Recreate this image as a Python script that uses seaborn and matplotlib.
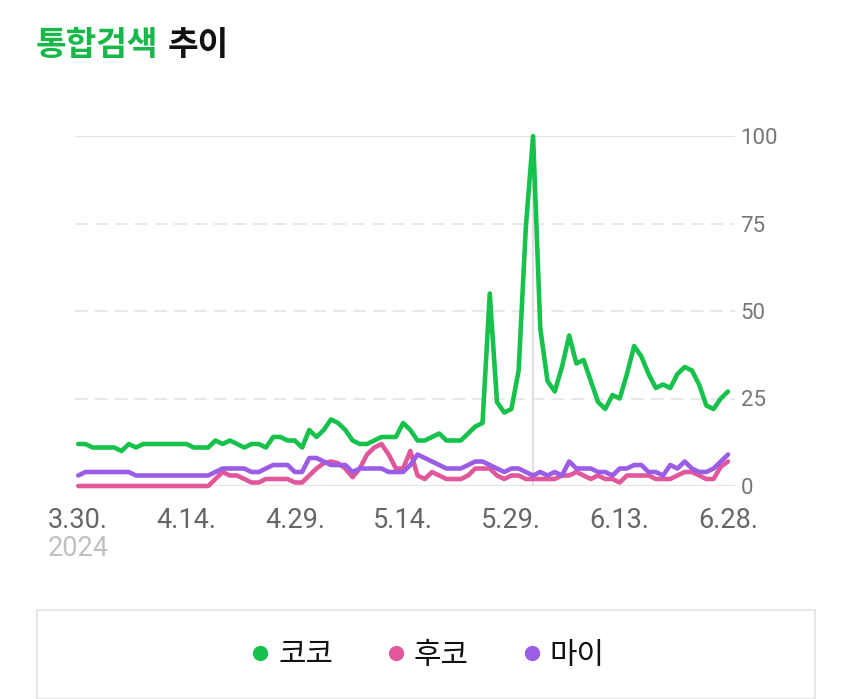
import numpy as np
import pandas as pd
import matplotlib
matplotlib.use("Agg")
import matplotlib.pyplot as plt
from matplotlib.lines import Line2D
from matplotlib.patches import Rectangle
import seaborn as sns

# ---- data ----
dates = pd.date_range("2024-03-30", "2024-06-28", freq="D")
series_names = ["코코", "후코", "마이"]
coco = [12, 12, 11, 11, 11, 11, 10, 12, 11, 12,
        12, 12, 12, 12, 12, 12, 11, 11, 11, 13,
        12, 13, 12, 11, 12, 12, 11, 14, 14, 13,
        13, 11, 16, 14, 16, 19, 18, 16, 13, 12,
        12, 13, 14, 14, 14, 18, 16, 13, 13, 14,
        15, 13, 13, 13, 15, 17, 18, 55, 24, 21,
        22, 33, 74, 100, 45, 30, 27, 34, 43, 35,
        36, 30, 24, 22, 26, 25, 32, 40, 37, 32,
        28, 29, 28, 32, 34, 33, 29, 23, 22, 25, 27]
huko = [0, 0, 0, 0, 0, 0, 0, 0, 0, 0,
        0, 0, 0, 0, 0, 0, 0, 0, 0, 2,
        4, 3, 3, 2, 1, 1, 2, 2, 2, 2,
        1, 1, 3, 5, 6.5, 7, 6.5, 5, 2.5, 5,
        9, 11, 12, 9, 5, 5, 10, 3, 2, 4,
        3, 2, 2, 2, 3, 5, 5, 5, 3, 2,
        3, 3, 2, 2, 2, 2, 2, 3, 3, 4,
        3, 2, 3, 2, 2, 1, 3, 3, 3, 3,
        2, 2, 2, 3, 4, 4, 3, 2, 2, 5.5, 7]
mai = [3, 4, 4, 4, 4, 4, 4, 4, 3, 3,
       3, 3, 3, 3, 3, 3, 3, 3, 3, 4,
       5, 5, 5, 5, 4, 4, 5, 6, 6, 6,
       4, 4, 8, 8, 7, 6, 6, 6, 4, 5,
       5, 5, 5, 4, 4, 4, 6, 9, 8, 7,
       6, 5, 5, 5, 6, 7, 7, 6, 5, 4,
       5, 5, 4, 3, 4, 3, 4, 3, 7, 5,
       5, 5, 4, 4, 3, 5, 5, 6, 6, 4,
       4, 3, 6, 5, 7, 5, 4, 4, 5, 7, 9]
colors = ["#16c24b", "#e0589b", "#9b5ce6"]
y_ticks = [0, 25, 50, 75, 100]
x_tick_labels = ["3.30.", "4.14.", "4.29.", "5.14.", "5.29.", "6.13.", "6.28."]
highlight_date = "2024-06-01"

df = pd.DataFrame({"date": np.tile(dates, 3),
                   "value": coco + huko + mai,
                   "series": np.repeat(series_names, len(dates))})

sns.set_style("white")
plt.rcParams["font.family"] = ["Roboto", "Noto Sans CJK KR", "DejaVu Sans"]

W, H = 850, 699
fig = plt.figure(figsize=(W / 100, H / 100), dpi=100)
ax = fig.add_axes([75 / W, (H - 486) / H, 660 / W, 350 / H])

sns.lineplot(data=df, x="date", y="value", hue="series", palette=colors,
             hue_order=series_names, linewidth=3.3, ax=ax, legend=False,
             clip_on=False)

x0 = dates[0] - pd.Timedelta(days=0.45)
x1 = dates[-1] + pd.Timedelta(days=0.97)
ax.set_xlim(x0, x1)
ax.set_ylim(0, 100)

# grid
for v in y_ticks:
    if v in (0, 100):
        ax.axhline(v, color="#e3e3e3", lw=1.5, zorder=0)
    else:
        ax.axhline(v, color="#e6e6e6", lw=1.3, ls=(0, (7, 4)), zorder=0)
ax.axvline(pd.Timestamp(highlight_date), color="#dcdcdc", lw=1.3, zorder=0)

for s in ax.spines.values():
    s.set_visible(False)

ax.yaxis.tick_right()
ax.set_yticks(y_ticks)
ax.set_yticklabels([str(v) for v in y_ticks])
ax.tick_params(axis="y", length=0, pad=4, labelsize=16, labelcolor="#777777")
xt = dates[::15]
ax.set_xticks(xt)
ax.set_xticklabels(x_tick_labels)
ax.tick_params(axis="x", length=0, pad=15, labelsize=19.5, labelcolor="#666666")
ax.set_xlabel("")
ax.set_ylabel("")

fig.text(48 / W, 1 - 549 / H, "2024", fontsize=19.5, color="#c0c0c0",
         ha="left", va="center")

# title
t1 = fig.text(36 / W, 1 - 45 / H, "통합검색", fontsize=24, fontweight="heavy",
              color="#16b84a", ha="left", va="center",
              family=["Noto Sans CJK KR", "DejaVu Sans"])
fig.canvas.draw()
bb = t1.get_window_extent()
fig.text((bb.x1 + 9) / W, 1 - 45 / H, "추이", fontsize=24, fontweight="heavy",
         color="#111111", ha="left", va="center",
         family=["Noto Sans CJK KR", "DejaVu Sans"])

# legend box
fig.patches.append(Rectangle((37 / W, 0), (815 - 37) / W, (H - 610) / H,
                             transform=fig.transFigure, facecolor="white",
                             edgecolor="#e6e6e6", lw=1.5))
handles = [Line2D([0], [0], marker="o", color="none", markerfacecolor=c,
                  markeredgecolor=c, markersize=10) for c in colors]
fig.legend(handles, series_names, loc="center", bbox_to_anchor=(0.5, 1 - 655 / H),
           ncol=3, frameon=False, handletextpad=0.1, columnspacing=1.6,
           prop={"family": ["Noto Sans CJK KR", "DejaVu Sans"], "size": 21.5},
           handlelength=1.0, labelcolor="#111111")

fig.savefig("out.png", dpi=100)
